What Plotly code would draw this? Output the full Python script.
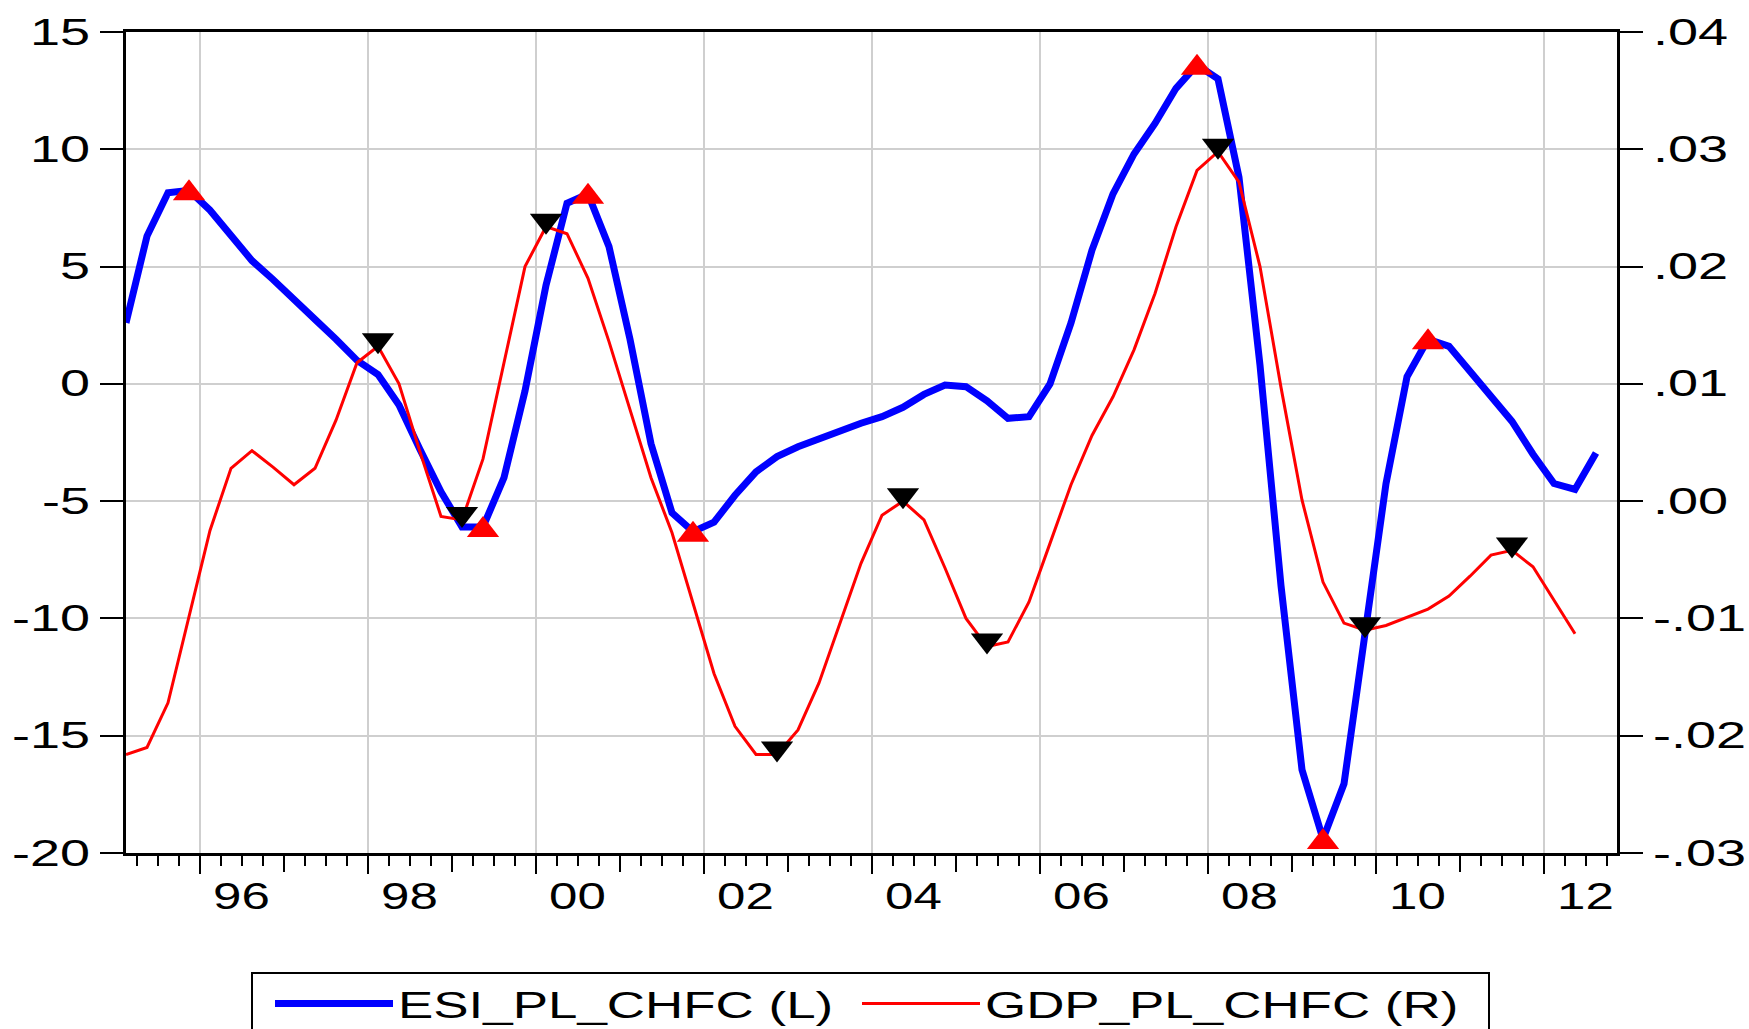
import plotly.graph_objects as go

# ---------------- data ----------------
start_year = 1995
n_quarters = 71
quarters = [f"{start_year + k // 4}Q{k % 4 + 1}" for k in range(n_quarters)]

esi_pl_chfc = [
    2.6, 6.3, 8.15, 8.25, 7.4, 6.3, 5.25, 4.45, 3.65, 2.75,
    1.9, 1.0, 0.4, -0.9, -2.8, -4.6, -6.1, -6.1, -4.0, -0.3,
    4.2, 7.7, 8.1, 5.85, 1.9, -2.55, -5.5, -6.3, -5.9, -4.75,
    -3.75, -3.1, -2.68, -2.32, -1.97, -1.68, -1.4, -1.0, -0.45, -0.05,
    -0.12, -0.72, -1.47, -1.4, 0.0, 2.6, 5.7, 8.1, 9.8, 11.1,
    12.6, 13.6, 13.0, 8.8, 0.8, -8.6, -16.45, -19.4, -17.05, -10.65,
    -4.25, 0.3, 1.9, 1.6, 0.5, -0.6, -1.6, -3.0, -4.25, -4.5,
    -2.95,
]

gdp_pl_chfc = [
    -0.0216, -0.0210, -0.0172, -0.0098, -0.0025, 0.0028, 0.0043, 0.0029, 0.0014, 0.0028,
    0.0069, 0.0118, 0.0132, 0.0100, 0.0042, -0.0013, -0.0016, 0.0036, 0.0118, 0.0200,
    0.0234, 0.0228, 0.0190, 0.0136, 0.0078, 0.0020, -0.0027, -0.0087, -0.0147, -0.0192,
    -0.0216, -0.0216, -0.0195, -0.0155, -0.0104, -0.0053, -0.0012, 0.0000, -0.0016, -0.0057,
    -0.0100, -0.0124, -0.0120, -0.0086, -0.0036, 0.0014, 0.0056, 0.0089, 0.0129, 0.0177,
    0.0234, 0.0282, 0.0298, 0.0272, 0.0200, 0.0097, 0.0001, -0.0069, -0.0104, -0.0110,
    -0.0106, -0.0099, -0.0092, -0.0081, -0.0064, -0.0046, -0.0042, -0.0056, -0.0084, -0.0113,
]

# turning points (quarters) marked on each series
esi_turning_points = ["1995Q4", "1999Q2", "2000Q3", "2001Q4", "2007Q4", "2009Q2", "2010Q3"]
gdp_turning_points = ["1998Q1", "1999Q1", "2000Q1", "2002Q4", "2004Q2", "2005Q2",
                      "2008Q1", "2009Q4", "2011Q3"]

tick_years = list(range(1996, 2013))            # a long tick at every year start
label_years = list(range(1996, 2013, 2))        # grid + label every second year
x_tick_labels = ["96", "98", "00", "02", "04", "06", "08", "10", "12"]

left_ticks = [-20, -15, -10, -5, 0, 5, 10, 15]
left_tick_labels = ["-20", "-15", "-10", "-5", "0", "5", "10", "15"]
right_ticks = [-0.03, -0.02, -0.01, 0.00, 0.01, 0.02, 0.03, 0.04]
right_tick_labels = ["-.03", "-.02", "-.01", ".00", ".01", ".02", ".03", ".04"]

# ---------------- helpers (quarter index scale) ----------------
xpos = list(range(len(quarters)))
def qpos(q):
    return quarters.index(q)
def year_start(y):
    return (y - start_year) * 4 - 0.5
def year_mid(y):
    return (y - start_year) * 4 + 1.5

FONT = "Liberation Sans, Arial, Helvetica, sans-serif"
GRID = "#CFCFCF"

# plot-area geometry in pixels (figure 1749 x 1029)
W, H = 1749, 1029
PL, PR, PT, PB = 126, 1617, 32, 853
def px_x(p):
    return (p - PL) / (PR - PL)
def px_y(p):
    return (PB - p) / (PB - PT)

fig = go.Figure()
fig.add_trace(go.Scatter(
    x=xpos, y=esi_pl_chfc, mode="lines", name="ESI_PL_CHFC (L)",
    line=dict(color="#0000FF", width=7), xaxis="x", yaxis="y"))
fig.add_trace(go.Scatter(
    x=[qpos(q) for q in esi_turning_points],
    y=[esi_pl_chfc[qpos(q)] for q in esi_turning_points],
    mode="markers", showlegend=False,
    marker=dict(symbol="triangle-up", size=28, color="#FF0000", line=dict(width=0),
                standoff=3),
    xaxis="x", yaxis="y"))
fig.add_trace(go.Scatter(
    x=xpos[:len(gdp_pl_chfc)], y=gdp_pl_chfc, mode="lines", name="GDP_PL_CHFC (R)",
    line=dict(color="#FF0000", width=3), xaxis="x", yaxis="y2"))
fig.add_trace(go.Scatter(
    x=[qpos(q) for q in gdp_turning_points],
    y=[gdp_pl_chfc[qpos(q)] for q in gdp_turning_points],
    mode="markers", showlegend=False,
    marker=dict(symbol="triangle-up", angle=180, size=28, color="#000000",
                line=dict(width=0), standoff=6),
    xaxis="x", yaxis="y2"))
# empty traces so the helper x axes (ticks / labels) are drawn
for ax in ("x2", "x3"):
    fig.add_trace(go.Scatter(x=[], y=[], xaxis=ax, yaxis="y", showlegend=False,
                             hoverinfo="skip"))

xrange = [0, len(quarters)]

fig.update_layout(
    width=W, height=H,
    margin=dict(l=PL, r=W - PR, t=PT, b=H - PB, autoexpand=False),
    paper_bgcolor="white", plot_bgcolor="white",
    font=dict(family=FONT, size=36, color="black"),
    showlegend=True,
    xaxis=dict(
        range=xrange, tickmode="array",
        tickvals=[year_start(y) for y in label_years],
        showticklabels=False, ticks="outside", ticklen=18, tickwidth=2, tickcolor="black",
        showgrid=True, gridcolor=GRID, gridwidth=2, zeroline=False,
        showline=True, linecolor="black", linewidth=2.5, mirror=True,
        minor=dict(tick0=0.5, dtick=1, ticks="outside", ticklen=10, tickwidth=2,
                   tickcolor="black", showgrid=False),
    ),
    xaxis2=dict(
        overlaying="x", anchor="y", range=xrange, tickmode="array",
        tickvals=[year_start(y) for y in tick_years],
        showticklabels=False, ticks="outside", ticklen=18, tickwidth=2, tickcolor="black",
        showgrid=False, zeroline=False, showline=False,
    ),
    xaxis3=dict(
        overlaying="x", anchor="y", range=xrange, tickmode="array",
        tickvals=[year_mid(y) for y in label_years], ticktext=x_tick_labels,
        ticks="", showgrid=False, zeroline=False, showline=False,
        tickfont=dict(family=FONT, size=37, color="black"), ticklabelstandoff=18,
    ),
    yaxis=dict(
        range=[-20, 15], tickmode="array", tickvals=left_ticks, ticktext=left_tick_labels,
        ticks="outside", ticklen=23, tickwidth=1.5, tickcolor="black",
        showgrid=True, gridcolor=GRID, gridwidth=2, zeroline=False,
        showline=True, linecolor="black", linewidth=2.5,
        tickfont=dict(family=FONT, size=36, color="black"), ticklabelstandoff=3,
    ),
    yaxis2=dict(
        overlaying="y", side="right", anchor="x",
        range=[-0.03, 0.04], tickmode="array", tickvals=right_ticks, ticktext=right_tick_labels,
        ticks="outside", ticklen=23, tickwidth=1.5, tickcolor="black",
        showgrid=False, zeroline=False,
        showline=True, linecolor="black", linewidth=2.5,
        tickfont=dict(family=FONT, size=36, color="black"), ticklabelstandoff=3,
    ),
    legend=dict(
        orientation="h", x=px_x(270), xanchor="left",
        y=px_y(973), yanchor="top",
        borderwidth=0, bgcolor="rgba(0,0,0,0)",
        font=dict(family=FONT, size=37, color="black"),
        itemwidth=118, entrywidth=454, entrywidthmode="pixels",
        traceorder="normal",
    ),
    shapes=[dict(
        type="rect", xref="paper", yref="paper",
        x0=px_x(252), x1=px_x(1489), y0=px_y(973), y1=px_y(1050),
        line=dict(color="black", width=2), fillcolor="rgba(0,0,0,0)", layer="below",
    )],
)

# EViews-style wide glyphs: stretch the label texts horizontally (still real text)
post = """
document.body.style.margin = '0';
document.body.style.overflow = 'hidden';
var gd = document.getElementById('{plot_id}');
function stretch(sel, f){
  gd.querySelectorAll(sel).forEach(function(t){
    if(!t.getAttribute('data-w0')){ t.setAttribute('data-w0', t.getComputedTextLength()); }
    var w0 = parseFloat(t.getAttribute('data-w0'));
    t.setAttribute('lengthAdjust', 'spacingAndGlyphs');
    t.setAttribute('textLength', (w0 * f).toFixed(1));
  });
}
function applyStretch(){
  stretch('g.ytick text', 1.5);
  stretch('g.y2tick text', 1.5);
  stretch('g.x3tick text', 1.38);
  stretch('text.legendtext', 1.43);
  gd.querySelectorAll('.legend .scrollbox').forEach(function(e){ e.removeAttribute('clip-path'); });
}
applyStretch();
gd.on('plotly_afterplot', applyStretch);
"""

fig.write_html("out.html", post_script=post, config={"displayModeBar": False})
